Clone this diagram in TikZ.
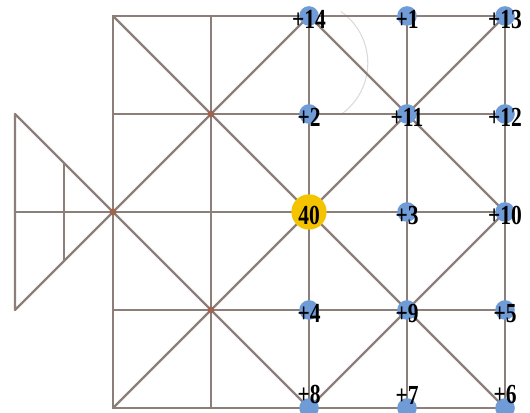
\documentclass[tikz,border=0pt]{standalone}
\usepackage{fontspec}
\setmainfont{Liberation Serif}
\usepackage{tikz}
\definecolor{edgegray}{HTML}{8C7F7A}
\definecolor{ptblue}{HTML}{6F9BD6}
\definecolor{ptgold}{HTML}{F5C400}
\definecolor{ptbrown}{HTML}{A0644E}
\tikzset{
  every picture/.style={line join=round, line cap=round},
  edge/.style={edgegray, line width=1.35pt},
  faint/.style={black!15, line width=0.6pt},
  lbl/.style={font=\fontsize{16}{16}\selectfont\bfseries, inner sep=0pt, xscale=0.78, transform shape, yshift=-2pt},
  lblbot/.style={lbl, anchor=south, yshift=4pt},
}

\begin{document}
\begin{tikzpicture}[x=2cm,y=2cm]
\useasboundingbox (-0.153,-0.041) rectangle (5.255,4.163);
% grid points and tail
\foreach \c in {1,...,5}
  \foreach \r in {0,...,4}
    \coordinate (g\c\r) at (\c,\r);
\coordinate (t1) at (0,3);
\coordinate (t2) at (0,1);
\coordinate (t3) at (0,2);
\coordinate (t4) at (0.5,2.5);
\coordinate (t5) at (0.5,1.5);
% faint arc
\draw[faint] (2.96,3.52) ++(55:0.64) arc[start angle=55,end angle=-55,radius=0.64];
% lines
\foreach \r in {0,1,3,4}
  \draw[edge] (g1\r) -- (g5\r);
\draw[edge] (t3) -- (g52);
\foreach \c in {1,...,5}
  \draw[edge] (g\c0) -- (g\c4);
\draw[edge] (t1) -- (g12) -- (t2) -- cycle;
\draw[edge] (t4) -- (t5);
\draw[edge] (g14) -- (g50);
\draw[edge] (g10) -- (g54);
\draw[edge] (g34) -- (g12) -- (g30);
\draw[edge] (g34) -- (g52) -- (g30);
% crossings
\foreach \p in {23,12,21}
  \fill[ptbrown] (g\p) circle (0.035);
% points
\fill[ptgold] (g32) circle (0.18);
\foreach \p/\t in {34/+14,44/+1,54/+13,33/+2,43/+11,53/+12,42/+3,52/+10,31/+4,41/+9,51/+5}{
  \fill[ptblue] (g\p) circle (0.1);
  \node[lbl] (n\p) at (g\p) {\t};
}
\foreach \p/\t in {30/+8,40/+7,50/+6}{
  \fill[ptblue] (g\p) circle (0.1);
  \node[lblbot] (n\p) at (g\p) {\t};
}
\node[lbl] (n32) at (g32) {40};
\end{tikzpicture}
\end{document}
